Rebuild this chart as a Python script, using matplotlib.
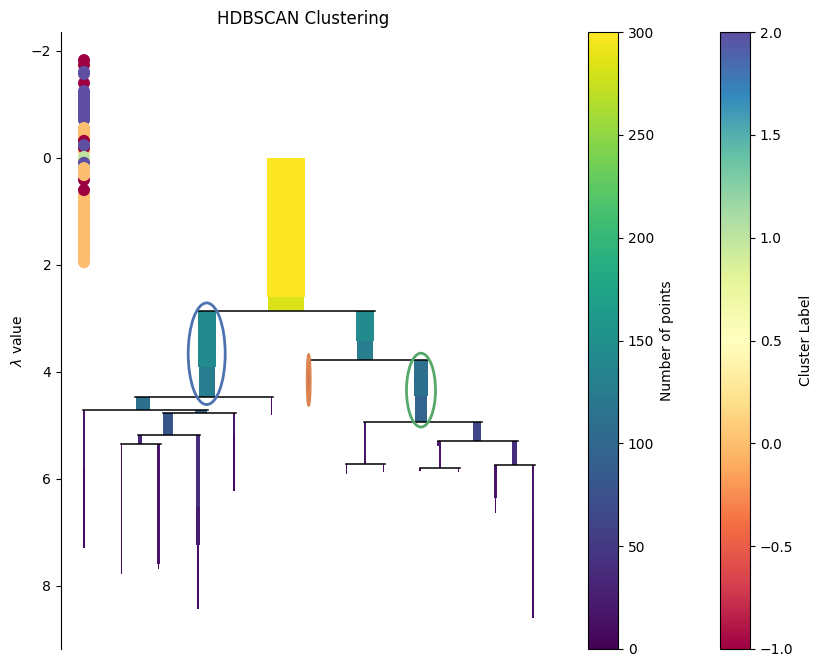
import matplotlib
matplotlib.use('Agg')
import matplotlib.pyplot as plt
from matplotlib.cm import ScalarMappable
from matplotlib.colors import Normalize
from matplotlib.patches import Ellipse

# points strip on the left, in draw order (later ones sit on top)
point_x = 23
point_lambda = [-1.83, -1.74, -1.40,
                -1.61, -1.57, -1.25, -1.21, -1.17, -1.13, -1.09, -1.05, -1.01, -0.97, -0.93, -0.89, -0.85, -0.81, -0.77, -0.73, -0.71,
                -0.56, -0.52, -0.47, -0.42, -0.37, -0.13, 0.04,
                -0.32, -0.19, -0.24, -0.02, 0.09, 0.41,
                0.19, 0.26, 0.32,
                0.69, 0.74, 0.79, 0.84, 0.89, 0.94, 0.99, 1.04, 1.09, 1.14, 1.19, 1.24, 1.29, 1.34, 1.39, 1.44,
                1.49, 1.54, 1.59, 1.64, 1.69, 1.74, 1.79, 1.84, 1.89, 1.95,
                0.60]
point_label = [-1, -1, -1,
               2, 2, 2, 2, 2, 2, 2, 2, 2, 2, 2, 2, 2, 2, 2, 2, 2,
               0, 0, 0, 0, 0, 0, 0,
               -1, -1, 2, 1, 2, -1,
               0, 0, 0,
               0, 0, 0, 0, 0, 0, 0, 0, 0, 0, 0, 0, 0, 0, 0, 0,
               0, 0, 0, 0, 0, 0, 0, 0, 0, 0,
               -1]

# condensed tree branches
bar_x = [225, 225,
         146, 146, 304, 304,
         360, 360, 247.5,
         82, 210.3,
         23, 23, 140,
         107, 173, 173,
         79, 137, 137, 137, 137,
         60.5, 97.5, 97.5,
         304, 416,
         285.3, 322.3,
         378, 378.7, 453.5,
         359, 397.7,
         434.5, 434.3, 472, 472]
bar_top = [0.00, 2.60,
           2.86, 3.90, 2.86, 3.42,
           3.78, 4.45, 3.78,
           4.46, 4.46,
           4.71, 5.82, 4.71,
           4.76, 4.76, 5.20,
           5.18, 5.18, 6.53, 7.24, 7.44,
           5.35, 5.35, 7.59,
           4.93, 4.93,
           5.72, 5.72,
           5.29, 5.38, 5.29,
           5.80, 5.80,
           5.74, 6.35, 5.74, 6.75]
bar_bottom = [2.60, 2.86,
              3.90, 4.46, 3.42, 3.78,
              4.45, 4.93, 4.55,
              4.71, 4.80,
              5.82, 7.30, 4.76,
              5.18, 5.20, 6.22,
              5.35, 6.53, 7.24, 7.44, 8.43,
              7.78, 7.59, 7.69,
              5.72, 5.29,
              5.90, 5.88,
              5.38, 5.80, 5.74,
              5.86, 5.87,
              6.35, 6.63, 6.75, 8.60]
bar_points = [300, 283,
              142, 126, 142, 126,
              110, 95, 9,
              110, 9,
              16, 9, 100,
              78, 16, 9,
              32, 39, 24, 12, 9,
              9, 16, 9,
              16, 63,
              9, 9,
              24, 16, 39,
              9, 9,
              16, 9, 16, 9]

# split lines: lambda, left, right
split_lambda = [2.86, 3.78, 4.46, 4.71, 4.76, 5.18, 5.35, 4.93, 5.72, 5.29, 5.80, 5.74]
split_left = [137, 247.3, 74, 22, 102, 77, 60.3, 303, 285, 377, 359, 434]
split_right = [314, 367.3, 211.7, 146.7, 174.7, 138.7, 99.7, 421, 324, 457, 399, 474]

# circled clusters: x, lambda, width, height
ellipse_x = [145.7, 247.7, 360]
ellipse_lambda = [3.66, 4.15, 4.34]
ellipse_w = [37, 3, 29]
ellipse_h = [1.9, 0.94, 1.38]
ellipse_color = ['#4c72b0', '#dd8452', '#55a868']

W, H = 823, 666
fig = plt.figure(figsize=(W / 100, H / 100), dpi=100)
ax = fig.add_axes([61 / W, (H - 649) / H, 484 / W, 617 / H])

tree_norm = Normalize(0, 300)
tree_cmap = plt.get_cmap('viridis')
for x, top, bottom, n in zip(bar_x, bar_top, bar_bottom, bar_points):
    ax.bar(x, bottom - top, n * 38 / 300, bottom=top, color=tree_cmap(tree_norm(n)), linewidth=0)
for y, x0, x1 in zip(split_lambda, split_left, split_right):
    ax.plot([x0, x1], [y, y], color='black', linewidth=1.1)

for x, y, w, h, c in zip(ellipse_x, ellipse_lambda, ellipse_w, ellipse_h, ellipse_color):
    ax.add_patch(Ellipse((x, y), w, h, fill=False, edgecolor=c, linewidth=2, zorder=5))

ax.scatter([point_x] * len(point_lambda), point_lambda, c=point_label, cmap='Spectral',
           vmin=-1, vmax=2, s=75, linewidths=0, zorder=4)

ax.set_xlim(0, 484)
ax.set_ylim(9.18, -2.355)
ax.set_xticks([])
ax.set_yticks([-2, 0, 2, 4, 6, 8])
ax.set_ylabel(r'$\lambda$ value')
ax.set_title('HDBSCAN Clustering', fontsize=12)
for side in ['top', 'right', 'bottom']:
    ax.spines[side].set_visible(False)

cax1 = fig.add_axes([588 / W, (H - 649) / H, 30 / W, 617 / H])
fig.colorbar(ScalarMappable(tree_norm, tree_cmap), cax=cax1, label='Number of points')
cax2 = fig.add_axes([720 / W, (H - 649) / H, 30 / W, 617 / H])
fig.colorbar(ScalarMappable(Normalize(-1, 2), plt.get_cmap('Spectral')), cax=cax2, label='Cluster Label')

fig.savefig('out.png', dpi=100)
